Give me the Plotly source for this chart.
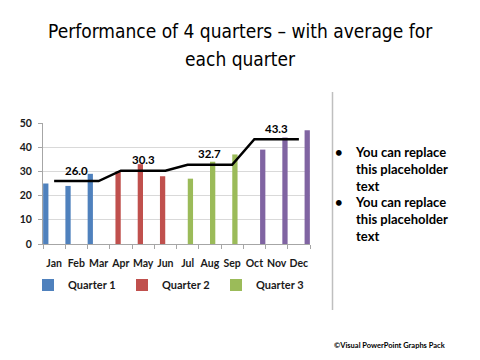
import plotly.graph_objects as go

months = ["Jan", "Feb", "Mar", "Apr", "May", "Jun", "Jul", "Aug", "Sep", "Oct", "Nov", "Dec"]
quarter_names = ["Quarter 1", "Quarter 2", "Quarter 3", "Quarter 4"]
quarter_months = [months[0:3], months[3:6], months[6:9], months[9:12]]
quarter_values = [[25, 24, 29], [30, 33, 28], [27, 34, 37], [39, 44, 47]]
quarter_avgs = [26.0, 30.3, 32.7, 43.3]
colors = ["#4F81BD", "#C0504D", "#9BBB59", "#8064A2"]
show_in_legend = [True, True, True, False]

OFF = 8  # page body margin
W, H = 480, 360
# target page-pixel plot box: x 43..310, y 123..244
L = 43 - OFF
T = 123 - OFF
R = W - (310 - OFF)
B = H - (244 - OFF)
PW, PH = W - L - R, H - T - B

def px(x):
    return (x - OFF - L) / PW

def py(y):
    return (H - B - (y - OFF)) / PH

tick_font = dict(family="Lato, Liberation Sans, sans-serif", size=10.5, color="#1a1a1a", weight="bold")
label_font = dict(family="Lato, Liberation Sans, sans-serif", size=11.5, color="black", weight="bold")

fig = go.Figure()
for i in range(4):
    yv = [None] * 12
    for m, v in zip(quarter_months[i], quarter_values[i]):
        yv[months.index(m)] = v
    fig.add_trace(go.Bar(x=months, y=yv, name=quarter_names[i], marker_color=colors[i],
                         marker_line_width=0, showlegend=show_in_legend[i]))

avg_line = []
for a in quarter_avgs:
    avg_line.extend([a, a, a])

fig.add_trace(go.Scatter(x=months, y=avg_line, mode="lines", line=dict(color="black", width=2.5),
                         showlegend=False, cliponaxis=False))

for q, a in enumerate(quarter_avgs):
    fig.add_annotation(x=quarter_months[q][1], y=a, xref="x", yref="y", text=f"{a:.1f}",
                       showarrow=False, yshift=11, font=label_font)

fig.update_layout(
    width=W, height=H, margin=dict(l=L, r=R, t=T, b=B, autoexpand=False),
    paper_bgcolor="white", plot_bgcolor="white",
    barmode="group", bargap=0, bargroupgap=0.05,
    xaxis=dict(type="category", tickfont=tick_font, tickangle=0, showgrid=False, showline=True,
               linecolor="#A6A6A6", linewidth=1, ticks="outside", tickson="boundaries",
               ticklen=4, tickcolor="#A6A6A6", ticklabelstandoff=9, fixedrange=True),
    yaxis=dict(range=[0, 50], dtick=10, tickfont=tick_font, showgrid=True, gridcolor="#D9D9D9",
               gridwidth=1, showline=True, linecolor="#A6A6A6", linewidth=1, ticks="outside",
               ticklen=4, tickcolor="#A6A6A6", ticklabelstandoff=4, zeroline=False, fixedrange=True),
    legend=dict(orientation="h", x=px(28), y=py(285), xanchor="left", yanchor="middle",
                font=dict(family="Lato, Liberation Sans, sans-serif", size=11, color="#1a1a1a",
                          weight="bold"),
                entrywidth=49, entrywidthmode="pixels", itemwidth=30, bgcolor="rgba(0,0,0,0)"),
    showlegend=True,
)

title_font = dict(family="DejaVu Sans Condensed, DejaVu Sans, sans-serif", size=19, color="black")
fig.add_annotation(text="Performance of 4 quarters – with average for", x=px(240), y=py(31),
                   xref="paper", yref="paper", showarrow=False, font=title_font,
                   xanchor="center", yanchor="middle")
fig.add_annotation(text="each quarter", x=px(240), y=py(59),
                   xref="paper", yref="paper", showarrow=False, font=title_font,
                   xanchor="center", yanchor="middle")

body_font = dict(family="Lato, Liberation Sans, sans-serif", size=13, color="black", weight="bold")
bullets = ["You can replace<br>this placeholder<br>text", "You can replace<br>this placeholder<br>text"]
bullet_tops = [142, 192]
for txt, top in zip(bullets, bullet_tops):
    fig.add_annotation(text="•", x=px(339), y=py(top + 10), xref="paper", yref="paper",
                       showarrow=False, font=body_font, xanchor="center", yanchor="middle")
    fig.add_annotation(text=txt, x=px(353), y=py(top), xref="paper", yref="paper",
                       showarrow=False, font=body_font, xanchor="left", yanchor="top", align="left")

fig.add_shape(type="line", xref="paper", yref="paper", x0=px(332.5), x1=px(332.5), y0=py(92), y1=py(310),
              line=dict(color="#BFBFBF", width=1.5))

fig.add_annotation(text="©Visual PowerPoint Graphs Pack", x=px(332), y=py(345), xref="paper", yref="paper",
                   showarrow=False, xanchor="left", yanchor="middle",
                   font=dict(family="Lato, Liberation Sans, sans-serif", size=7.5, color="black", weight="bold"))

fig.write_html("out.html", config={"displayModeBar": False})
